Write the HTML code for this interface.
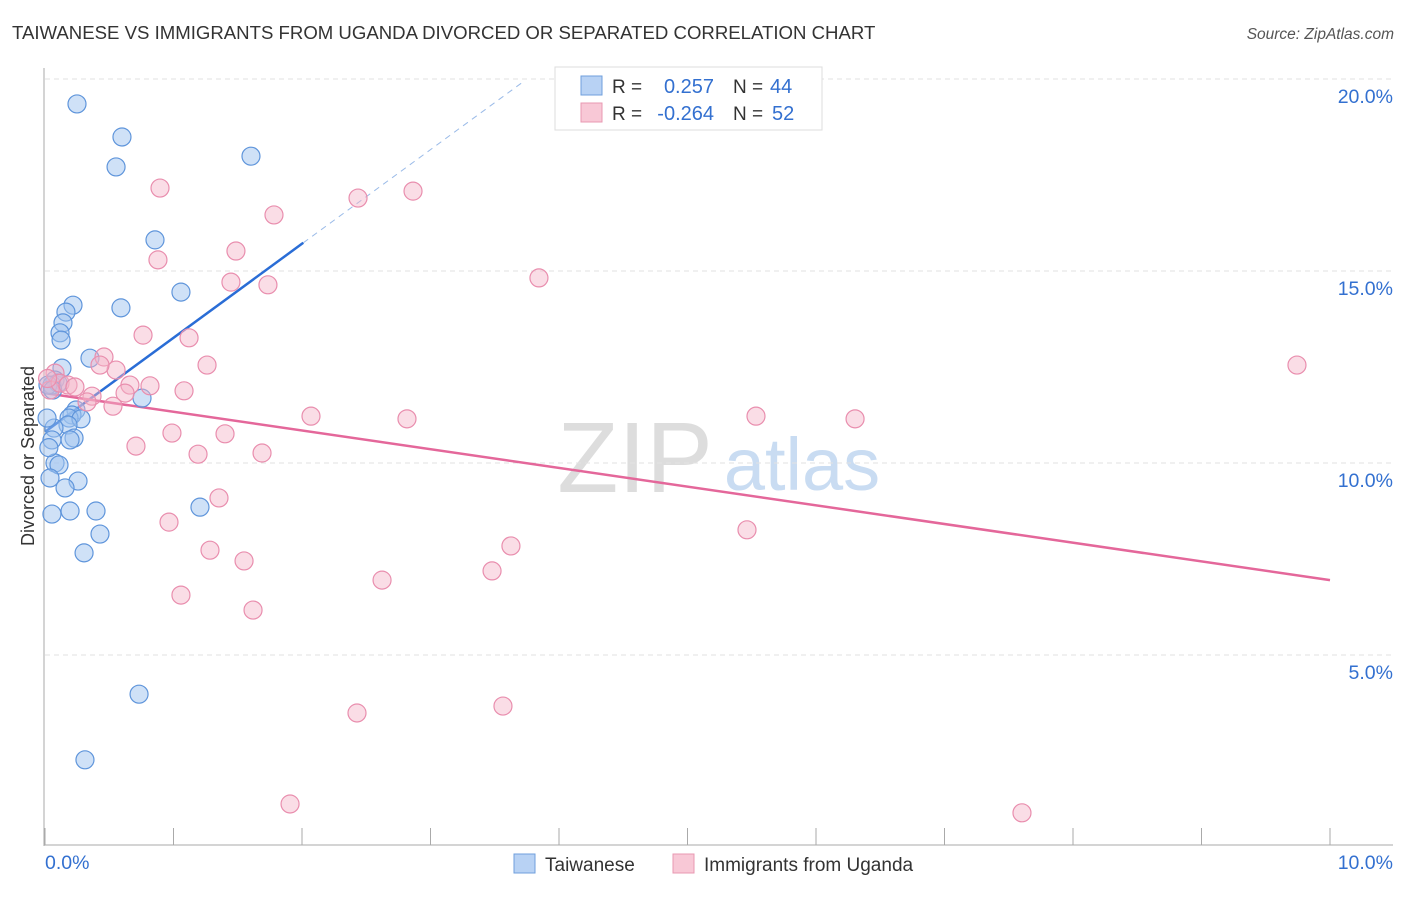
<!DOCTYPE html>
<html><head><meta charset="utf-8"><style>
body{margin:0;background:#fff;font-family:"Liberation Sans",sans-serif;}
svg text{font-family:"Liberation Sans",sans-serif;}
</style></head><body>
<svg id="chart" width="1406" height="892" viewBox="0 0 1406 892" xmlns="http://www.w3.org/2000/svg">
<text x="12" y="39" font-size="18.6" fill="#333">TAIWANESE VS IMMIGRANTS FROM UGANDA DIVORCED OR SEPARATED CORRELATION CHART</text>
<text x="1394" y="39" font-size="15.5" fill="#555" text-anchor="end" font-style="italic">Source: ZipAtlas.com</text>
<text transform="translate(34,456) rotate(-90)" font-size="18" fill="#333" text-anchor="middle">Divorced or Separated</text>
<g>
<text x="635" y="492" font-size="100" fill="#ddd" font-family="Liberation Serif,serif" text-anchor="middle">ZIP</text>
<text x="802" y="490" font-size="74" fill="#c9dcf2" text-anchor="middle">atlas</text>
</g>
<g id="grid"></g><g id="axes"></g><g id="trends"></g><g id="points"></g>
<g>
<rect x="555" y="67" width="267" height="63" fill="#fff" stroke="#ddd"/>
<rect x="581" y="76" width="21" height="19" fill="#b8d2f4" stroke="#6f9fdc"/>
<text x="612" y="93" font-size="19" fill="#333">R =</text>
<text x="714" y="93" font-size="20" fill="#3370d0" text-anchor="end">0.257</text>
<text x="733" y="93" font-size="19" fill="#333">N =</text>
<text x="770" y="93" font-size="20" fill="#3370d0">44</text>
<rect x="581" y="103" width="21" height="19" fill="#f8c8d6" stroke="#e898b2"/>
<text x="612" y="120" font-size="19" fill="#333">R =</text>
<text x="714" y="120" font-size="20" fill="#3370d0" text-anchor="end">-0.264</text>
<text x="733" y="120" font-size="19" fill="#333">N =</text>
<text x="772" y="120" font-size="20" fill="#3370d0">52</text>
</g>
<g>
<rect x="514" y="854" width="21" height="19" fill="#b8d2f4" stroke="#6f9fdc"/>
<text x="545" y="871" font-size="19" fill="#333">Taiwanese</text>
<rect x="673" y="854" width="21" height="19" fill="#f8c8d6" stroke="#e898b2"/>
<text x="704" y="871" font-size="19" fill="#333">Immigrants from Uganda</text>
</g>
</svg>
<script>
const yTicks=[5,10,15,20];
const xTickLabels=["0.0%","10.0%"];
const blueX=[0.249,0.599,0.553,1.603,0.856,1.058,0.591,0.218,0.163,0.140,0.117,0.125,0.350,0.132,0.078,0.054,0.101,0.755,0.241,0.210,0.187,0.280,0.179,0.070,0.054,0.226,0.195,0.078,0.109,0.039,0.257,0.156,0.054,0.195,0.397,1.206,0.428,0.304,0.732,0.311,0.016,0.023,0.03,0.06];
const blueY=[19.35,18.49,17.71,17.99,15.81,14.45,14.04,14.11,13.93,13.65,13.39,13.20,12.73,12.47,12.16,12.03,12.08,11.69,11.38,11.25,11.17,11.15,10.99,10.91,10.60,10.65,10.60,10.00,9.95,9.61,9.53,9.35,8.67,8.75,8.75,8.85,8.15,7.66,3.98,2.27,11.17,12.03,10.4,11.9];
const pinkX=[0.895,2.436,2.864,1.782,1.486,0.879,1.447,1.735,3.844,0.763,1.121,0.459,1.261,9.743,0.553,0.428,0.078,0.039,0.117,0.179,0.233,0.366,0.327,0.661,0.817,0.623,0.529,1.082,2.070,2.817,5.533,6.304,0.988,1.401,0.708,1.191,1.689,1.354,0.965,5.463,3.626,1.284,1.549,2.623,3.479,1.058,1.619,2.428,3.564,1.907,7.603,0.02];
const pinkY=[17.16,16.90,17.08,16.46,15.52,15.29,14.71,14.64,14.82,13.33,13.26,12.76,12.55,12.55,12.42,12.55,12.34,11.90,12.08,12.03,11.98,11.74,11.59,12.03,12.01,11.82,11.48,11.88,11.22,11.15,11.22,11.15,10.78,10.76,10.44,10.23,10.26,9.09,8.46,8.26,7.84,7.73,7.45,6.95,7.19,6.56,6.17,3.49,3.67,1.12,0.89,12.2];
const blueTrend=[10.81,2.45];
const pinkTrend=[11.82,-0.487];
const NS="http://www.w3.org/2000/svg";
const X=v=>45+v*128.5, Y=v=>847-v*38.4;
function mk(t,a,p){const e=document.createElementNS(NS,t);for(const k in a)e.setAttribute(k,a[k]);document.getElementById(p).appendChild(e);return e;}
yTicks.forEach(t=>{
 const l=mk('line',{x1:45,x2:1393,y1:Y(t),y2:Y(t),stroke:'#e2e2e2','stroke-dasharray':'5,4'},'grid');
 
 
 const tx=mk('text',{x:1393,y:Y(t)+24,'font-size':19.5,fill:'#3370d0','text-anchor':'end'},'grid');
 tx.textContent=t.toFixed(1)+'%';
 
 
});
const ax=mk('line',{x1:44,x2:44,y1:68,y2:846,stroke:'#aaa'},'axes');


const bx=mk('line',{x1:44,x2:1393,y1:845,y2:845,stroke:'#aaa'},'axes');


for(let i=0;i<=10;i++){const t=mk('line',{x1:X(i),x2:X(i),y1:828,y2:845,stroke:'#aaa'},'axes');
 
 }
[[0,'start',45],[10,'end',1393]].forEach((d,i)=>{const t=mk('text',{x:d[2],y:869,'font-size':19.5,fill:'#3370d0','text-anchor':d[1]},'axes');t.textContent=xTickLabels[i];
 
 });
function trend(tr,x0,x1,col,dash,name){const l=mk('line',{x1:X(x0),y1:Y(tr[0]+tr[1]*x0),x2:X(x1),y2:Y(tr[0]+tr[1]*x1),stroke:col,'stroke-width':dash?1:2.5,'stroke-dasharray':dash?'6,5':'none'},'trends');
 
 }
blueX.forEach((x,i)=>{const c=mk('circle',{cx:X(x),cy:Y(blueY[i]),r:9,fill:'rgba(160,195,240,0.5)',stroke:'#5f95db','stroke-width':1.2},'points');
 
 });
pinkX.forEach((x,i)=>{const c=mk('circle',{cx:X(x),cy:Y(pinkY[i]),r:9,fill:'rgba(245,180,200,0.45)',stroke:'#e98eae','stroke-width':1.2},'points');
 
 });
trend(blueTrend,0,2.01,'#2a6dd6',false,'taiwanese-trend-line');
trend(blueTrend,2.01,3.73,'#9bbbe8',true,'taiwanese-trend-extension');
trend(pinkTrend,0,10,'#e4679a',false,'uganda-trend-line');
</script>
</body></html>
